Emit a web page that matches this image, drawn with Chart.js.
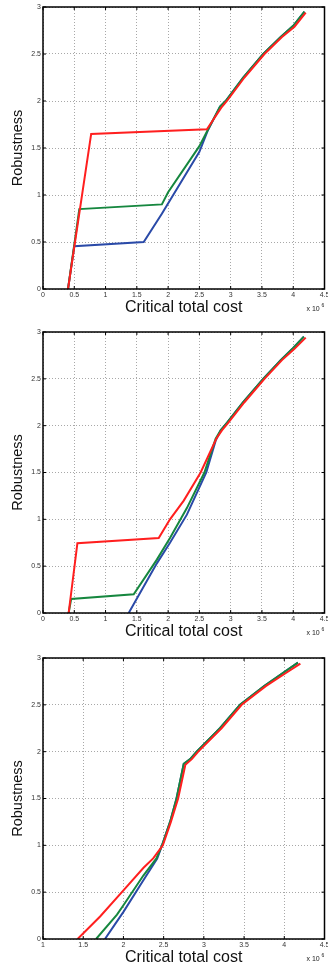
<!DOCTYPE html>
<html>
<head>
<meta charset="utf-8">
<script src="https://cdn.jsdelivr.net/npm/chart.js@4"></script>
<style>
  html, body { margin: 0; padding: 0; background: #fff; overflow: hidden; }
  body { width: 328px; height: 967px; position: relative; }
  canvas { position: absolute; left: 0; }
</style>
</head>
<body>
<canvas id="chartTop" style="top:0px"></canvas>
<canvas id="chartMid" style="top:320px"></canvas>
<canvas id="chartBot" style="top:641px"></canvas>
<script>
// top panel
const costTopBlue = [0.40, 0.50, 1.61, 1.90, 2.50, 2.63, 2.83, 2.92, 3.20, 3.52, 3.80, 4.00, 4.18];
const robTopBlue  = [0, 0.455, 0.50, 0.80, 1.46, 1.68, 1.94, 2.00, 2.25, 2.50, 2.68, 2.80, 2.95];
const costTopGreen = [0.40, 0.58, 1.90, 2.00, 2.50, 2.64, 2.83, 2.92, 3.20, 3.52, 3.80, 4.00, 4.18];
const robTopGreen  = [0, 0.85, 0.90, 1.03, 1.52, 1.70, 1.94, 2.00, 2.25, 2.50, 2.68, 2.80, 2.95];
const costTopRed = [0.40, 0.77, 2.62, 2.85, 2.94, 3.22, 3.54, 3.82, 4.02, 4.20];
const robTopRed  = [0, 1.65, 1.70, 1.93, 2.00, 2.25, 2.50, 2.68, 2.79, 2.94];

// middle panel
const costMidBlue = [1.37, 1.82, 2.03, 2.30, 2.61, 2.76, 2.84, 2.94, 3.20, 3.52, 3.80, 4.00, 4.17];
const robMidBlue  = [0, 0.53, 0.75, 1.05, 1.50, 1.84, 1.95, 2.03, 2.25, 2.50, 2.70, 2.83, 2.95];
const costMidGreen = [0.41, 0.45, 1.45, 1.82, 2.03, 2.30, 2.58, 2.76, 2.84, 2.94, 3.20, 3.52, 3.80, 4.00, 4.17];
const robMidGreen  = [0, 0.15, 0.20, 0.57, 0.80, 1.12, 1.50, 1.86, 1.95, 2.03, 2.25, 2.50, 2.70, 2.83, 2.95];
const costMidRed = [0.41, 0.55, 1.85, 2.03, 2.25, 2.52, 2.77, 2.86, 2.96, 3.22, 3.54, 3.82, 4.02, 4.20];
const robMidRed  = [0, 0.745, 0.80, 1.00, 1.20, 1.50, 1.86, 1.95, 2.03, 2.25, 2.50, 2.70, 2.82, 2.94];

// bottom panel
const costBotBlue = [1.77, 2.00, 2.25, 2.42, 2.48, 2.58, 2.66, 2.75, 2.83, 2.91, 3.20, 3.45, 3.75, 4.00, 4.17];
const robBotBlue  = [0, 0.29, 0.63, 0.86, 1.00, 1.25, 1.50, 1.87, 1.92, 2.00, 2.25, 2.50, 2.70, 2.85, 2.95];
const costBotGreen = [1.66, 1.92, 2.00, 2.25, 2.41, 2.48, 2.58, 2.66, 2.75, 2.83, 2.91, 3.20, 3.45, 3.75, 4.00, 4.17];
const robBotGreen  = [0, 0.26, 0.36, 0.68, 0.86, 1.00, 1.25, 1.50, 1.87, 1.92, 2.00, 2.25, 2.50, 2.70, 2.85, 2.95];
const costBotRed = [1.43, 1.71, 2.00, 2.25, 2.37, 2.49, 2.59, 2.68, 2.77, 2.85, 2.93, 3.22, 3.47, 3.77, 4.02, 4.20];
const robBotRed  = [0, 0.24, 0.52, 0.76, 0.86, 1.00, 1.25, 1.50, 1.86, 1.92, 2.00, 2.25, 2.50, 2.70, 2.84, 2.94];

const xTitle = 'Critical total cost';
const yTitle = 'Robustness';
const colors = ['#2a4aa8', '#16873f', '#ff1f1f'];

const pts = (xs, ys) => xs.map((x, i) => ({ x: x, y: ys[i] }));

// frame box, inward ticks and the x 10^6 note
const framePlugin = {
    id: 'frame',
    afterDraw(chart) {
        const { ctx, chartArea: a, scales } = chart;
        ctx.save();
        ctx.strokeStyle = '#000';
        ctx.lineWidth = 1;
        ctx.beginPath();
        scales.x.ticks.forEach((t) => {
            const px = scales.x.getPixelForValue(t.value);
            ctx.moveTo(px, a.bottom); ctx.lineTo(px, a.bottom - 3);
            ctx.moveTo(px, a.top); ctx.lineTo(px, a.top + 3);
        });
        scales.y.ticks.forEach((t) => {
            const py = scales.y.getPixelForValue(t.value);
            ctx.moveTo(a.left, py); ctx.lineTo(a.left + 3, py);
            ctx.moveTo(a.right, py); ctx.lineTo(a.right - 3, py);
        });
        ctx.stroke();
        ctx.lineWidth = 1.5;
        ctx.strokeRect(a.left, a.top, a.right - a.left, a.bottom - a.top);

        ctx.fillStyle = '#222';
        ctx.textBaseline = 'alphabetic';
        ctx.font = '7px "Liberation Sans", Arial, sans-serif';
        ctx.fillText('x 10', a.right - 18, a.bottom + 22);
        ctx.font = '5px "Liberation Sans", Arial, sans-serif';
        ctx.fillText('6', a.right - 3, a.bottom + 18);
        ctx.restore();
    },
};

// 2.5 stays 2.5, 3.0 becomes 3 like matlab
const tickText = (v) => String(Math.round(v * 10) / 10);

const makeChart = (id, height, padTop, xMin, blue, green, red) => {
    const canvas = document.getElementById(id);
    canvas.width = 328;
    canvas.height = height;
    canvas.style.width = '328px';
    canvas.style.height = height + 'px';

    const line = (data, color) => ({
        data: data,
        borderColor: color,
        borderWidth: 2,
        pointRadius: 0,
        showLine: true,
        fill: false,
        tension: 0,
    });

    return new Chart(canvas.getContext('2d'), {
        type: 'scatter',
        data: {
            // first dataset is painted last, so red ends up on top
            datasets: [line(red, colors[2]), line(green, colors[1]), line(blue, colors[0])],
        },
        options: {
            responsive: false,
            animation: false,
            layout: { padding: { top: padTop, right: 3.5, left: 0, bottom: 0 } },
            plugins: { legend: { display: false }, tooltip: { enabled: false } },
            scales: {
                x: {
                    type: 'linear',
                    min: xMin,
                    max: 4.5,
                    afterFit: (s) => { s.height = 28; s.paddingLeft = 0; s.paddingRight = 0; },
                    ticks: {
                        stepSize: 0.5,
                        padding: 2,
                        color: '#333',
                        font: { size: 7, family: '"Liberation Sans", Arial, sans-serif' },
                        maxRotation: 0,
                        autoSkip: false,
                        callback: tickText,
                    },
                    grid: { color: '#a8a8a8', lineWidth: 1, drawTicks: false },
                    border: { display: false, dash: [1, 2] },
                    title: {
                        display: true,
                        text: xTitle,
                        color: '#111',
                        font: { size: 16, lineHeight: 1, family: '"Liberation Sans", Arial, sans-serif' },
                        padding: { top: 0, bottom: 1 },
                    },
                },
                y: {
                    type: 'linear',
                    min: 0,
                    max: 3,
                    afterFit: (s) => { s.width = 43; s.paddingTop = 0; s.paddingBottom = 0; },
                    ticks: {
                        stepSize: 0.5,
                        padding: 2,
                        color: '#333',
                        font: { size: 7, family: '"Liberation Sans", Arial, sans-serif' },
                        callback: tickText,
                    },
                    grid: { color: '#a8a8a8', lineWidth: 1, drawTicks: false },
                    border: { display: false, dash: [1, 2] },
                    title: {
                        display: true,
                        text: yTitle,
                        color: '#111',
                        font: { size: 14.5, lineHeight: 1.2, family: '"Liberation Sans", Arial, sans-serif' },
                        padding: { top: 9, bottom: 0 },
                    },
                },
            },
        },
        plugins: [framePlugin],
    });
};

makeChart('chartTop', 317, 7, 0,
    pts(costTopBlue, robTopBlue), pts(costTopGreen, robTopGreen), pts(costTopRed, robTopRed));
makeChart('chartMid', 321, 12, 0,
    pts(costMidBlue, robMidBlue), pts(costMidGreen, robMidGreen), pts(costMidRed, robMidRed));
makeChart('chartBot', 326, 17, 1,
    pts(costBotBlue, robBotBlue), pts(costBotGreen, robBotGreen), pts(costBotRed, robBotRed));
</script>
</body>
</html>
